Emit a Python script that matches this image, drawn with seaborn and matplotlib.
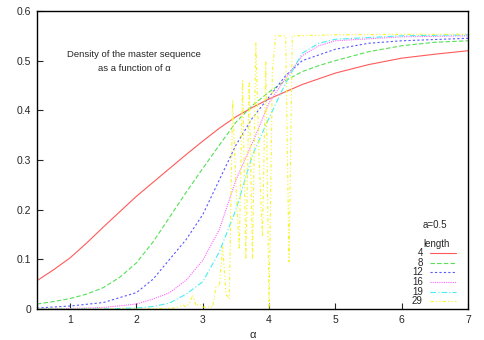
import numpy as np
import pandas as pd
import matplotlib
matplotlib.use("Agg")
import matplotlib.pyplot as plt
import seaborn as sns

# Datos (densidad de la secuencia maestra vs alpha)
alpha_4 = [0.5, 0.75, 1.0, 1.25, 1.5, 1.75, 2.0, 2.25, 2.5, 2.75, 3.0, 3.25, 3.5, 3.75, 4.0,
           4.5, 5.0, 5.5, 6.0, 6.5, 7.0]
dens_4 = [0.057, 0.079, 0.103, 0.133, 0.165, 0.196, 0.227, 0.255, 0.283, 0.311, 0.338, 0.364,
          0.387, 0.406, 0.423, 0.452, 0.475, 0.492, 0.505, 0.513, 0.520]

alpha_8 = [0.5, 0.75, 1.0, 1.25, 1.5, 1.75, 2.0, 2.25, 2.5, 2.75, 3.0, 3.25, 3.5, 3.75, 4.0,
           4.25, 4.5, 4.75, 5.0, 5.5, 6.0, 6.5, 7.0]
dens_8 = [0.010, 0.015, 0.021, 0.030, 0.043, 0.064, 0.093, 0.135, 0.185, 0.235, 0.283, 0.330,
          0.376, 0.410, 0.437, 0.460, 0.478, 0.490, 0.500, 0.518, 0.530, 0.537, 0.540]

alpha_12 = [0.5, 1.0, 1.5, 2.0, 2.25, 2.5, 2.75, 3.0, 3.25, 3.5, 3.75, 4.0, 4.25, 4.5, 5.0,
            5.5, 6.0, 7.0]
dens_12 = [0.002, 0.006, 0.013, 0.033, 0.060, 0.100, 0.140, 0.190, 0.260, 0.330, 0.385, 0.427,
           0.470, 0.500, 0.523, 0.535, 0.540, 0.545]

alpha_16 = [0.5, 1.0, 1.5, 2.0, 2.25, 2.5, 2.75, 3.0, 3.25, 3.5, 3.75, 4.0, 4.25, 4.5, 4.75,
            5.0, 6.0, 7.0]
dens_16 = [0.0, 0.001, 0.003, 0.010, 0.020, 0.033, 0.058, 0.098, 0.160, 0.260, 0.335, 0.415,
           0.465, 0.510, 0.530, 0.540, 0.548, 0.550]

alpha_19 = [0.5, 1.0, 1.5, 2.0, 2.25, 2.5, 2.75, 3.0, 3.25, 3.5, 3.75, 4.0, 4.25, 4.5, 4.75,
            5.0, 6.0, 7.0]
dens_19 = [0.0, 0.0, 0.0, 0.002, 0.005, 0.012, 0.030, 0.055, 0.115, 0.200, 0.310, 0.385,
           0.455, 0.515, 0.535, 0.543, 0.550, 0.552]

alpha_29 = [0.5, 1.0, 1.5, 2.0, 2.5, 2.6, 2.7, 2.75, 2.8, 2.85, 2.9, 2.95, 3.0, 3.05, 3.1,
            3.15, 3.2, 3.25, 3.3, 3.35, 3.4, 3.45, 3.5, 3.55, 3.6, 3.65, 3.7, 3.75, 3.8, 3.85,
            3.9, 3.95, 4.0, 4.05, 4.1, 4.15, 4.2, 4.25, 4.3, 4.35, 4.4, 5.0, 6.0, 7.0]
dens_29 = [0.0, 0.0, 0.0, 0.0, 0.001, 0.003, 0.008, 0.004, 0.012, 0.028, 0.006, 0.010, 0.004,
           0.003, 0.005, 0.004, 0.046, 0.046, 0.125, 0.030, 0.020, 0.420, 0.250, 0.120, 0.460,
           0.100, 0.457, 0.100, 0.535, 0.300, 0.145, 0.497, 0.0, 0.480, 0.550, 0.550, 0.550,
           0.550, 0.095, 0.550, 0.550, 0.552, 0.553, 0.553]

series = [
    ("4", alpha_4, dens_4, "#ff5a5a", "-"),
    ("8", alpha_8, dens_8, "#55e055", (0, (4, 2))),
    ("12", alpha_12, dens_12, "#5a5aff", (0, (2, 2))),
    ("16", alpha_16, dens_16, "#ff66ff", (0, (1, 1))),
    ("19", alpha_19, dens_19, "#44f0f0", (0, (5, 2, 1, 2))),
    ("29", alpha_29, dens_29, "#f5f530", (0, (3, 2, 1, 2, 1, 2))),
]

sns.set_style("ticks")
plt.rcParams['font.family'] = ['Liberation Sans', 'DejaVu Sans']

fig = plt.figure(figsize=(4.85, 3.4), dpi=100)
ax = fig.add_axes([0.0763, 0.0912, 0.8887, 0.8765])

for nombre, xs, ys, color, estilo in series:
    df = pd.DataFrame({"alpha": xs, "dens": ys})
    sns.lineplot(data=df, x="alpha", y="dens", ax=ax, color=color, linestyle=estilo,
                 linewidth=0.8, sort=False, estimator=None)

ax.set_xlim(0.5, 7)
ax.set_ylim(0, 0.6)
ax.set_xticks([1, 2, 3, 4, 5, 6, 7])
ax.set_yticks([0, 0.1, 0.2, 0.3, 0.4, 0.5, 0.6])
ax.set_yticklabels(["0", "0.1", "0.2", "0.3", "0.4", "0.5", "0.6"])
ax.tick_params(direction="in", length=4, width=0.8, labelsize=7.5, pad=4)
ax.set_xlabel("α", fontsize=8, labelpad=4)
ax.set_ylabel("")
for s in ax.spines.values():
    s.set_linewidth(1.0)
    s.set_color("black")
    s.set_visible(True)

ax.text(0.226, 0.83, "Density of the master sequence\nas a function of α",
        transform=ax.transAxes, ha="center", va="center", fontsize=6.8, linespacing=1.7)

# leyenda al estilo gnuplot
ax.text(0.922, 0.283, "a=0.5", transform=ax.transAxes, ha="center", va="center", fontsize=7)
ax.text(0.927, 0.218, "length", transform=ax.transAxes, ha="center", va="center", fontsize=7)
for i, (nombre, xs, ys, color, estilo) in enumerate(series):
    yk = 0.188 - i * 0.0325
    ax.text(0.895, yk, nombre, transform=ax.transAxes, ha="right", va="center", fontsize=7)
    ax.plot([0.912, 0.973], [yk, yk], transform=ax.transAxes, color=color,
            linestyle=estilo, linewidth=0.8)

fig.savefig("out.png", dpi=100)
